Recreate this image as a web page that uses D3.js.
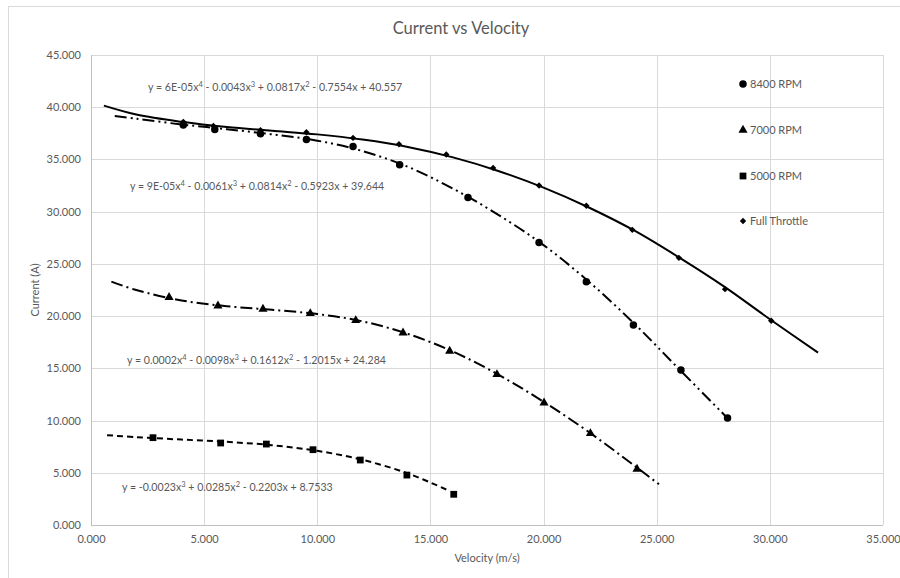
<!DOCTYPE html>
<meta charset="utf-8">
<style>
body { margin: 0; background: #fff; }
text { font-family: Lato, "Open Sans", sans-serif; fill: #595959; }
.grid line { stroke: #d9d9d9; stroke-width: 1px; }
.axis text { font-size: 11px; }
</style>
<body>
<svg width="900" height="578"></svg>
<script src="https://cdn.jsdelivr.net/npm/d3@7"></script>
<script>
var ftVel = [4.08, 5.41, 7.49, 9.52, 11.58, 13.61, 15.70, 17.77, 19.80, 21.89, 23.92, 25.98, 28.02, 30.06];
var ftCur = [38.6, 38.2, 37.8, 37.6, 37.06, 36.46, 35.47, 34.19, 32.5, 30.56, 28.26, 25.58, 22.58, 19.55];

var rpm8400Vel = [4.08, 5.47, 7.49, 9.52, 11.58, 13.64, 16.66, 19.80, 21.89, 23.97, 26.07, 28.13];
var rpm8400Cur = [38.3, 37.86, 37.45, 36.9, 36.24, 34.5, 31.36, 27.05, 23.3, 19.14, 14.83, 10.24];

var rpm7000Vel = [3.45, 5.61, 7.60, 9.69, 11.70, 13.79, 15.85, 17.94, 20.02, 22.07, 24.13];
var rpm7000Cur = [21.8, 20.99, 20.67, 20.26, 19.59, 18.4, 16.65, 14.42, 11.7, 8.77, 5.36];

var rpm5000Vel = [2.74, 5.73, 7.75, 9.81, 11.90, 13.96, 16.03];
var rpm5000Cur = [8.36, 7.85, 7.75, 7.21, 6.22, 4.78, 2.94];

// trendlines
var ftTrendVel = [0.57, 2, 4, 6, 8, 10, 12, 14, 16, 18, 20, 22, 24, 26, 28, 30, 32.13];
var ftTrendCur = [40.15, 39.3, 38.6, 38.1, 37.75, 37.4, 36.9, 36.2, 35.2, 33.9, 32.3, 30.4, 28.2, 25.6, 22.8, 19.7, 16.5];

var t8400Vel = [1.05, 2, 4, 6, 8, 10, 12, 14, 16, 18, 20, 22, 24, 26, 28.1];
var t8400Cur = [39.15, 38.9, 38.35, 37.9, 37.4, 36.8, 35.8, 34.3, 32.2, 29.7, 26.8, 23.3, 19.3, 14.9, 10.3];

var t7000Vel = [0.9, 2, 4, 6, 8, 10, 12, 14, 16, 18, 20, 22, 24, 25.1];
var t7000Cur = [23.3, 22.5, 21.5, 20.95, 20.6, 20.2, 19.5, 18.3, 16.6, 14.4, 11.8, 8.9, 5.7, 3.9];

var t5000Vel = [0.71, 2, 4, 6, 8, 10, 12, 14, 15.7];
var t5000Cur = [8.6, 8.41, 8.18, 7.96, 7.64, 7.10, 6.24, 4.94, 3.4];

var xTicks = [0, 5, 10, 15, 20, 25, 30, 35];
var yTicks = [0, 5, 10, 15, 20, 25, 30, 35, 40, 45];

var seriesNames = ["8400 RPM", "7000 RPM", "5000 RPM", "Full Throttle"];

var svg = d3.select("svg");
var margin = {left: 91, right: 17, top: 55, bottom: 53};
var width = 900 - margin.left - margin.right,
    height = 578 - margin.top - margin.bottom;

// chart border
svg.append("rect")
    .attr("x", 8.5).attr("y", 6.5)
    .attr("width", 900).attr("height", 600)
    .attr("fill", "none").attr("stroke", "#d9d9d9");

var x = d3.scaleLinear().domain([0, 35]).range([margin.left, margin.left + width]);
var y = d3.scaleLinear().domain([0, 45]).range([margin.top + height, margin.top]);

var grid = svg.append("g").attr("class", "grid");
grid.selectAll(".v").data(xTicks.slice(1)).enter().append("line")
    .attr("x1", function(d) { return Math.round(x(d)) + 0.5; })
    .attr("x2", function(d) { return Math.round(x(d)) + 0.5; })
    .attr("y1", y(45)).attr("y2", y(0));
grid.selectAll(".h").data(yTicks.slice(1)).enter().append("line")
    .attr("y1", function(d) { return Math.round(y(d)) + 0.5; })
    .attr("y2", function(d) { return Math.round(y(d)) + 0.5; })
    .attr("x1", x(0)).attr("x2", x(35));

// axis lines
svg.append("line").attr("x1", Math.round(x(0)) + 0.5).attr("x2", Math.round(x(0)) + 0.5)
    .attr("y1", y(45)).attr("y2", y(0)).attr("stroke", "#bfbfbf");
svg.append("line").attr("x1", x(0)).attr("x2", x(35))
    .attr("y1", Math.round(y(0)) + 0.5).attr("y2", Math.round(y(0)) + 0.5).attr("stroke", "#bfbfbf");

svg.append("g").attr("class", "axis")
    .attr("transform", "translate(0," + (y(0)) + ")")
    .call(d3.axisBottom(x).tickValues(xTicks).tickFormat(d3.format(".3f")).tickSize(0).tickPadding(10));
svg.append("g").attr("class", "axis")
    .attr("transform", "translate(" + x(0) + ",0)")
    .call(d3.axisLeft(y).tickValues(yTicks).tickFormat(d3.format(".3f")).tickSize(0).tickPadding(10));
svg.selectAll(".axis .domain").remove();
svg.selectAll(".axis text").style("fill", "#595959").style("font-family", "Lato, sans-serif").style("font-size", "11px");

svg.append("text").attr("x", 461).attr("y", 34).attr("text-anchor", "middle")
    .style("font-size", "16.5px").text("Current vs Velocity");
svg.append("text").attr("x", x(17.5)).attr("y", 562).attr("text-anchor", "middle")
    .style("font-size", "11px").text("Velocity (m/s)");
svg.append("text").attr("transform", "translate(39," + y(22.5) + ") rotate(-90)")
    .attr("text-anchor", "middle").style("font-size", "11px").text("Current (A)");

function zip(a, b) { return a.map(function(v, i) { return [v, b[i]]; }); }

var line = d3.line()
    .x(function(d) { return x(d[0]); })
    .y(function(d) { return y(d[1]); })
    .curve(d3.curveCatmullRom);

var trends = [
  {pts: zip(ftTrendVel, ftTrendCur), dash: null},
  {pts: zip(t8400Vel, t8400Cur), dash: "12,4,2,4,2,4"},
  {pts: zip(t7000Vel, t7000Cur), dash: "12,4,2,4"},
  {pts: zip(t5000Vel, t5000Cur), dash: "6,4"}
];
trends.forEach(function(t) {
  svg.append("path").datum(t.pts)
      .attr("d", line)
      .attr("fill", "none")
      .attr("stroke", "#000")
      .attr("stroke-width", 2)
      .attr("stroke-dasharray", t.dash);
});

var symbols = [
  {type: d3.symbolCircle, size: 44},
  {type: d3.symbolTriangle, size: 36},
  {type: d3.symbolSquare, size: 46},
  {type: d3.symbolDiamond2, size: 26}
];
var series = [zip(rpm8400Vel, rpm8400Cur), zip(rpm7000Vel, rpm7000Cur), zip(rpm5000Vel, rpm5000Cur), zip(ftVel, ftCur)];
series.forEach(function(s, i) {
  svg.append("g").selectAll("path").data(s).enter().append("path")
      .attr("d", d3.symbol().type(symbols[i].type).size(symbols[i].size))
      .attr("transform", function(d) { return "translate(" + x(d[0]) + "," + y(d[1]) + ")"; })
      .attr("fill", "#000");
});

// legend
var legY = [84, 130, 176, 221];
var leg = svg.append("g");
seriesNames.forEach(function(n, i) {
  leg.append("path")
      .attr("d", d3.symbol().type(symbols[i].type).size(symbols[i].size))
      .attr("transform", "translate(743," + legY[i] + ")")
      .attr("fill", "#000");
  leg.append("text").attr("x", 750).attr("y", legY[i] + 4)
      .style("font-size", "11px").text(n);
});

// trendline equations
var equations = [
  {x: 148, y: 91, parts: [["y = 6E-05x"], ["4", 1], [" - 0.0043x"], ["3", 1], [" + 0.0817x"], ["2", 1], [" - 0.7554x + 40.557"]]},
  {x: 130, y: 190, parts: [["y = 9E-05x"], ["4", 1], [" - 0.0061x"], ["3", 1], [" + 0.0814x"], ["2", 1], [" - 0.5923x + 39.644"]]},
  {x: 127, y: 364, parts: [["y = 0.0002x"], ["4", 1], [" - 0.0098x"], ["3", 1], [" + 0.1612x"], ["2", 1], [" - 1.2015x + 24.284"]]},
  {x: 122, y: 491, parts: [["y = -0.0023x"], ["3", 1], [" + 0.0285x"], ["2", 1], [" - 0.2203x + 8.7533"]]}
];
equations.forEach(function(e) {
  var t = svg.append("text").attr("x", e.x).attr("y", e.y).style("font-size", "10.6px");
  e.parts.forEach(function(p) {
    var ts = t.append("tspan").text(p[0]);
    if (p[1]) ts.attr("dy", -4).style("font-size", "7.5px");
    else if (t.selectAll("tspan").size() > 1) ts.attr("dy", 4);
  });
});
</script>
</body>
